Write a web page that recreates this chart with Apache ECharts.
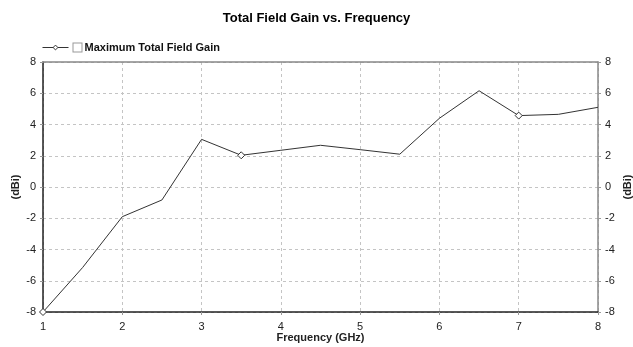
<!DOCTYPE html>
<html><head><meta charset="utf-8">
<script src="https://cdn.jsdelivr.net/npm/echarts@6/dist/echarts.min.js"></script>
<style>html,body{margin:0;padding:0;background:#fff}#c{width:633px;height:347px}</style>
</head><body><div id="c"></div>
<script>
const frequencies = [1, 1.5, 2, 2.5, 3, 3.5, 4, 4.5, 5, 5.5, 6, 6.5, 7, 7.5, 8];
const gainValues = [-8, -5.15, -1.9, -0.83, 3.05, 2.03, 2.35, 2.67, 2.39, 2.1, 4.4, 6.16, 4.57, 4.65, 5.1];
const markerIndices = [0, 5, 12];
const seriesName = 'Maximum Total Field Gain';
const titleText = 'Total Field Gain vs. Frequency';
const xName = 'Frequency (GHz)';
const yName = '(dBi)';

const FONT = 'Liberation Sans, Arial, sans-serif';
const data = frequencies.map((f, i) => markerIndices.includes(i)
  ? [f, gainValues[i]]
  : { value: [f, gainValues[i]], symbol: 'none' });

const chart = echarts.init(document.getElementById('c'), null, {renderer: 'canvas'});
const yAxisBase = {
  type: 'value', min: -8, max: 8, interval: 2,
  axisTick: {show: true, length: 3, inside: false, lineStyle: {color: '#999'}},
  axisLabel: {color: '#222', fontSize: 11, fontFamily: FONT, margin: 7},
  nameTextStyle: {color: '#222', fontSize: 11, fontWeight: 'bold', fontFamily: FONT},
  name: yName, nameLocation: 'middle', nameRotate: 90, nameMoveOverlap: false
};
chart.setOption({
  animation: false,
  backgroundColor: '#fff',
  title: {text: titleText, left: 'center', top: 7,
    textStyle: {fontSize: 13, fontWeight: 'bold', color: '#000', fontFamily: FONT}},
  legend: {left: 37, top: 37, itemWidth: 26, itemHeight: 6, itemGap: 2,
    data: [{name: seriesName}],
    lineStyle: {width: 1, color: '#333'},
    itemStyle: {color: '#fff', borderColor: '#333', borderWidth: 1},
    textStyle: {fontSize: 11, fontWeight: 'bold', color: '#111', fontFamily: FONT,
      rich: {box: {width: 8, height: 8, borderColor: '#999', borderWidth: 1, backgroundColor: '#fff'},
             t: {fontSize: 11, fontWeight: 'bold', color: '#111', fontFamily: FONT, padding: [0,0,0,3]}}},
    formatter: n => '{box|}{t|' + n + '}'},
  grid: {left: 43, right: 35, top: 62, bottom: 35, containLabel: false, outerBoundsMode: 'none'},
  xAxis: [{
    type: 'value', min: 1, max: 8, interval: 1,
    axisLine: {show: true, onZero: false, lineStyle: {color: '#222', width: 1.5}},
    axisTick: {show: true, length: 3, lineStyle: {color: '#999'}},
    axisLabel: {color: '#222', fontSize: 11, fontFamily: FONT, margin: 9},
    splitLine: {show: true, lineStyle: {color: '#c4c4c4', type: [3, 3]}},
    name: xName, nameLocation: 'middle', nameGap: 20, nameMoveOverlap: false,
    nameTextStyle: {color: '#222', fontSize: 11, fontWeight: 'bold', fontFamily: FONT}
  }, {
    type: 'value', min: 1, max: 8, interval: 1, position: 'top',
    axisLine: {show: true, onZero: false, lineStyle: {color: '#888', width: 1.5}},
    axisTick: {show: false}, axisLabel: {show: false}, splitLine: {show: false}
  }],
  yAxis: [Object.assign({}, yAxisBase, {
    position: 'left', nameGap: 22,
    axisLine: {show: true, onZero: false, lineStyle: {color: '#222', width: 1.5}},
    splitLine: {show: true, lineStyle: {color: '#c4c4c4', type: [3, 3]}}
  }), Object.assign({}, yAxisBase, {
    position: 'right', nameGap: 24,
    axisLine: {show: true, onZero: false, lineStyle: {color: '#888', width: 1.5}},
    splitLine: {show: false}
  })],
  series: [{
    name: seriesName, type: 'line', data: data,
    symbol: 'diamond', symbolSize: 7, showSymbol: true,
    itemStyle: {color: '#fff', borderColor: '#333', borderWidth: 1},
    lineStyle: {color: '#333', width: 1},
    emphasis: {disabled: true}
  }]
});
</script></body></html>
